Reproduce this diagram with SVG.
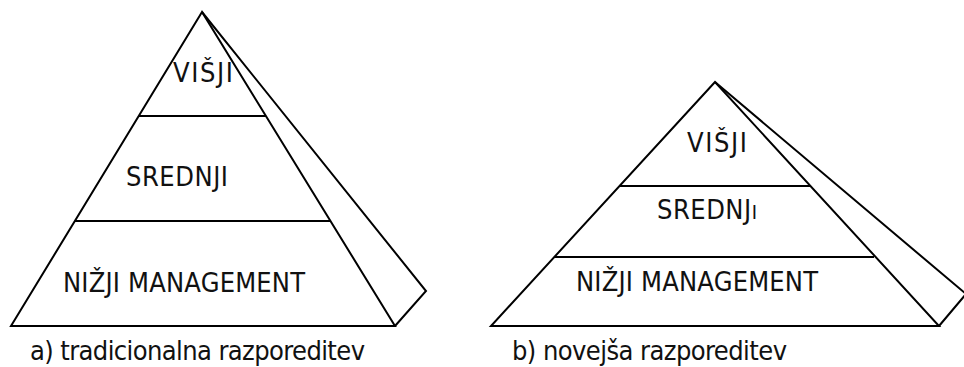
<svg xmlns="http://www.w3.org/2000/svg" width="964" height="367" viewBox="0 0 964 367">
  <style>
    .edge { fill: none; stroke: #000; stroke-width: 2; stroke-linejoin: miter; }
    .lbl { font-family: "DejaVu Sans Condensed", "DejaVu Sans", "Liberation Sans", sans-serif; font-stretch: condensed; font-size: 27px; fill: #111; }
  </style>
  <rect width="964" height="367" fill="#fff"/>

  <!-- a) traditional pyramid -->
  <g id="pyramid-a">
    <polygon class="edge" points="202,12 11,326 395,326"/>
    <polyline class="edge" points="202,12 426,291 395,326"/>
    <line class="edge" x1="139" y1="116" x2="266" y2="116"/>
    <line class="edge" x1="75" y1="221" x2="330" y2="221"/>
    <text class="lbl" x="173" y="82" textLength="60">VIŠJI</text>
    <text class="lbl" x="126" y="186" textLength="102">SREDNJI</text>
    <text class="lbl" x="63" y="292" textLength="242">NIŽJI MANAGEMENT</text>
    <text class="lbl" x="30" y="360" textLength="335">a) tradicionalna razporeditev</text>
  </g>

  <!-- b) newer pyramid -->
  <g id="pyramid-b">
    <polygon class="edge" points="715,82 491,326 939,326"/>
    <polyline class="edge" points="715,82 966,294 939,326"/>
    <line class="edge" x1="619" y1="186" x2="811" y2="186"/>
    <line class="edge" x1="554" y1="257" x2="874" y2="257"/>
    <text class="lbl" x="687" y="152" textLength="60">VIŠJI</text>
    <text class="lbl" x="657" y="219" textLength="100">SREDNJ<tspan font-size="20">I</tspan></text>
    <text class="lbl" x="576" y="291" textLength="242">NIŽJI MANAGEMENT</text>
    <text class="lbl" x="512" y="360" textLength="275">b) novejša razporeditev</text>
  </g>
</svg>
